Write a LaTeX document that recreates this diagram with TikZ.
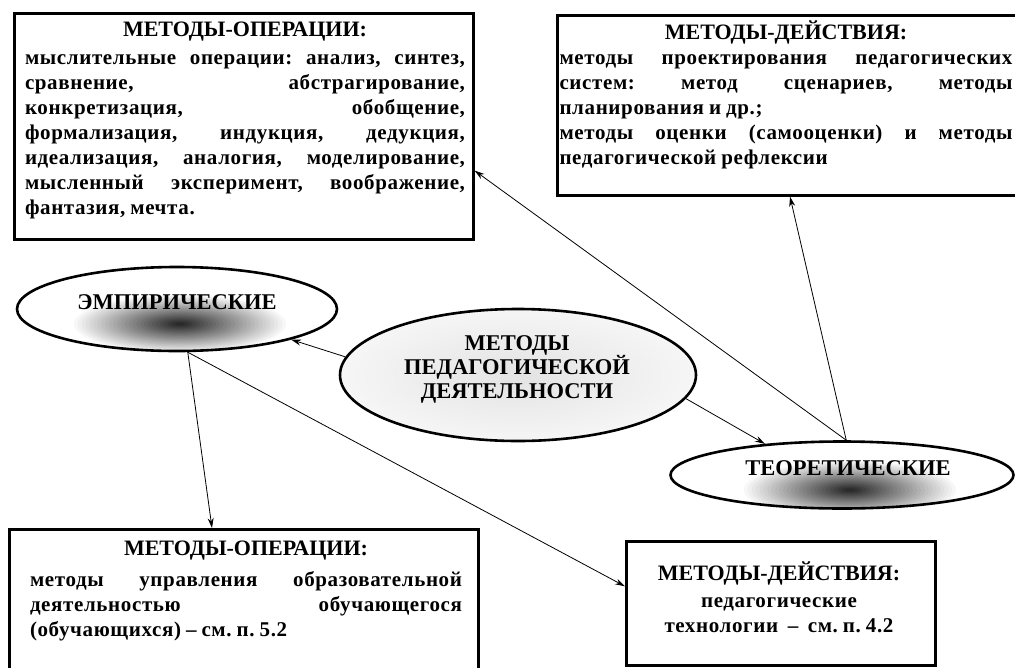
\documentclass[tikz,border=0pt]{standalone}
\usepackage{fontspec}
\setmainfont{Liberation Serif}
\usetikzlibrary{arrows.meta,shapes.geometric}
\newcommand\jl[2]{\leavevmode\hbox to #1{#2}}
\newcommand\lf[2]{\leavevmode\hbox to #1{#2\hfill}}
\newcommand\ttlfont{\fontsize{22}{25}\selectfont\bfseries}
\newcommand\bdyfont{\fontsize{21}{25}\selectfont\bfseries\addfontfeatures{LetterSpace=3}\spaceskip=5pt plus 3pt}
\newcommand\ovlfont{\fontsize{22.5}{24}\selectfont\bfseries}
\begin{document}
\begin{tikzpicture}[x=1pt,y=-1pt,
  box/.style={draw, line width=2.6pt, rectangle, anchor=north west, inner sep=0pt},
  txt/.style={anchor=north, align=center, inner sep=0pt},
  oval/.style={draw, ellipse, line width=2.6pt, inner sep=0pt},
  darkshade/.style={path picture={%
      \foreach \i in {0,...,27}{%
        \pgfmathsetmacro\g{\i*3.1}%
        \pgfmathsetmacro\rx{110-\i*3.9}%
        \pgfmathsetmacro\ry{30-\i*1.06}%
        \fill[black!\g] ([xshift=#1pt,yshift=-15pt]path picture bounding box.center)
          ellipse (\rx pt and \ry pt);}}},
  arr/.style={-{Stealth[length=10pt,width=6pt]}, line width=0.8pt},
  ]
\clip (0,0) rectangle (1015,667);

% boxes
\node[box, minimum width=459pt, minimum height=226pt] (tl) at (13,12) {};
\node[box, minimum width=480pt, minimum height=180pt] (tr) at (556,14) {};
\node[box, minimum width=469pt, minimum height=200pt] (bl) at (8,528) {};
\node[box, minimum width=309pt, minimum height=124pt] (br) at (625,540) {};

\node[txt, text width=440pt] (tltx) at (245,22) {%
  \ttlfont МЕТОДЫ-ОПЕРАЦИИ:\\[3pt]
  \bdyfont
  \jl{440pt}{мыслительные\hfill операции:\hfill анализ,\hfill синтез,}\\
  \jl{440pt}{сравнение,\hfill абстрагирование,}\\
  \jl{440pt}{конкретизация,\hfill обобщение,}\\
  \jl{440pt}{формализация,\hfill индукция,\hfill дедукция,}\\
  \jl{440pt}{идеализация,\hfill аналогия,\hfill моделирование,}\\
  \jl{440pt}{мысленный\hfill эксперимент,\hfill воображение,}\\
  \lf{440pt}{фантазия, мечта.}\par};

\node[txt, text width=453pt] (trtx) at (786,21) {%
  \ttlfont МЕТОДЫ-ДЕЙСТВИЯ:\\[0pt]
  \bdyfont
  \jl{453pt}{методы\hfill проектирования\hfill педагогических}\\
  \jl{453pt}{систем:\hfill метод\hfill сценариев,\hfill методы}\\
  \lf{453pt}{планирования и др.;}\\
  \jl{453pt}{методы\hfill оценки\hfill (самооценки)\hfill и\hfill методы}\\
  \lf{453pt}{педагогической рефлексии}\par};

\node[txt, text width=432pt] (bltx) at (246,541) {%
  \ttlfont МЕТОДЫ-ОПЕРАЦИИ:\\[6pt]
  \bdyfont
  \jl{432pt}{методы\hfill управления\hfill образовательной}\\
  \jl{432pt}{деятельностью\hfill обучающегося}\\
  \lf{432pt}{(обучающихся) – см. п. 5.2}\par};

\node[txt, text width=290pt] (brtx) at (779,562) {%
  \ttlfont МЕТОДЫ-ДЕЙСТВИЯ:\\[2pt]
  \bdyfont педагогические\\
  технологии – см. п. 4.2\par};

% ellipses
\node[oval, minimum width=320pt, minimum height=84pt, darkshade=3] (emp) at (177,309) {};
\node[txt, anchor=center, font=\ovlfont] (emptx) at (177,302) {ЭМПИРИЧЕСКИЕ};

\node[oval, minimum width=343pt, minimum height=67pt, darkshade=8] (teo) at (842,475) {};
\node[txt, anchor=center, font=\ovlfont] (teotx) at (848,468) {ТЕОРЕТИЧЕСКИЕ};

\node[oval, minimum width=356pt, minimum height=132pt,
  path picture={\shade[inner color=black!11, outer color=white]
      (path picture bounding box.center) ellipse (260pt and 100pt);}] (mid) at (518,375) {};
\node[txt, anchor=center, font=\ovlfont] (midtx) at (517,369)
  {МЕТОДЫ\\ПЕДАГОГИЧЕСКОЙ\\ДЕЯТЕЛЬНОСТИ\par};

% connectors
\draw[arr] (mid.174) -- (emp.-15);
\draw[arr] (mid.-8) -- (teo.158);
\draw[arr] (teo.83) -- ([yshift=70pt]tl.south east);
\draw[arr] (teo.83) -- ([xshift=234pt]tr.south west);
\draw[arr] (emp.-76) -- ([xshift=204pt]bl.north west);
\draw[arr] (emp.-76) -- ([yshift=17pt]br.west);
\end{tikzpicture}
\end{document}
